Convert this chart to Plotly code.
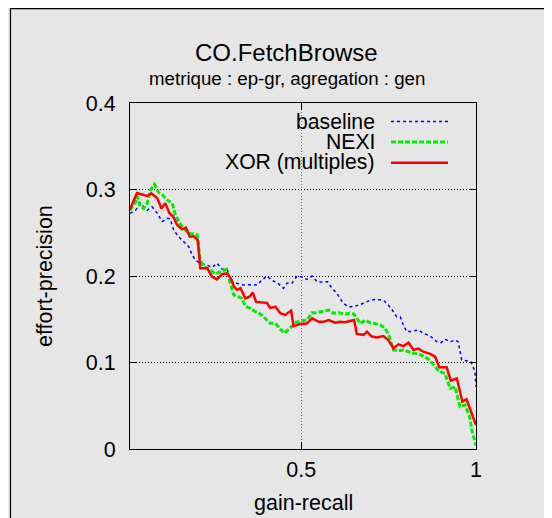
import plotly.graph_objects as go

# ---- data ----
xor_x = [0.01, 0.03, 0.059, 0.071, 0.088, 0.100, 0.111, 0.123, 0.133, 0.145, 0.159, 0.170, 0.181, 0.192, 0.204,
         0.211, 0.231, 0.245, 0.259, 0.273, 0.288, 0.300, 0.307, 0.316, 0.326, 0.340, 0.352, 0.361, 0.371, 0.388,
         0.402, 0.411, 0.426, 0.440, 0.454, 0.471, 0.478, 0.497, 0.516, 0.531, 0.550, 0.564, 0.578, 0.597, 0.611,
         0.626, 0.640, 0.651, 0.659, 0.678, 0.688, 0.702, 0.716, 0.735, 0.749, 0.764, 0.778, 0.792, 0.807, 0.821,
         0.835, 0.849, 0.869, 0.883, 0.895, 0.916, 0.928, 0.945, 0.961, 0.973, 1.0]
xor_y = [0.277, 0.296, 0.2925, 0.2955, 0.290, 0.278, 0.284, 0.2725, 0.269, 0.259, 0.254, 0.256, 0.2455, 0.246, 0.2415,
         0.209, 0.209, 0.199, 0.196, 0.202, 0.203, 0.196, 0.188, 0.184, 0.186, 0.174, 0.176, 0.181, 0.170, 0.169,
         0.169, 0.163, 0.1645, 0.157, 0.155, 0.160, 0.142, 0.1445, 0.145, 0.151, 0.147, 0.147, 0.149, 0.146, 0.147,
         0.1465, 0.148, 0.149, 0.133, 0.132, 0.1356, 0.130, 0.129, 0.1306, 0.126, 0.1164, 0.121, 0.119, 0.1229, 0.1145,
         0.116, 0.1125, 0.110, 0.1067, 0.0944, 0.0944, 0.079, 0.0817, 0.0547, 0.0574, 0.0277]

nexi_x = [0.01, 0.026, 0.031, 0.040, 0.049, 0.059, 0.069, 0.080, 0.092, 0.102, 0.116, 0.131, 0.140, 0.152, 0.164,
          0.178, 0.192, 0.202, 0.211, 0.221, 0.240, 0.254, 0.269, 0.286, 0.297, 0.307, 0.316, 0.330, 0.340, 0.354,
          0.369, 0.383, 0.397, 0.411, 0.426, 0.438, 0.451, 0.467, 0.483, 0.497, 0.516, 0.531, 0.545, 0.559, 0.578,
          0.592, 0.607, 0.626, 0.640, 0.651, 0.659, 0.669, 0.683, 0.697, 0.711, 0.726, 0.740, 0.752, 0.764, 0.778,
          0.792, 0.807, 0.821, 0.835, 0.854, 0.869, 0.883, 0.895, 0.911, 0.926, 0.940, 0.954, 0.969, 0.983, 0.988,
          0.997, 1.0]
nexi_y = [0.276, 0.286, 0.292, 0.280, 0.278, 0.284, 0.2995, 0.306, 0.2965, 0.294, 0.288, 0.284, 0.2705, 0.261, 0.255,
          0.249, 0.2486, 0.2474, 0.2185, 0.211, 0.207, 0.2023, 0.205, 0.2077, 0.1915, 0.178, 0.177, 0.174, 0.165, 0.1626,
          0.1587, 0.156, 0.151, 0.1453, 0.1453, 0.1395, 0.1337, 0.1395, 0.146, 0.148, 0.149, 0.1576, 0.1576, 0.159, 0.1607,
          0.157, 0.1576, 0.156, 0.157, 0.156, 0.151, 0.145, 0.149, 0.146, 0.145, 0.1434, 0.1395, 0.130, 0.1145, 0.1136,
          0.1145, 0.1125, 0.1106, 0.110, 0.1067, 0.102, 0.095, 0.0894, 0.0875, 0.070, 0.072, 0.049, 0.051, 0.0355, 0.022,
          0.0085, 0.004]

base_x = [0.01, 0.026, 0.040, 0.049, 0.059, 0.073, 0.088, 0.102, 0.116, 0.125, 0.135, 0.149, 0.164, 0.178, 0.188,
          0.197, 0.211, 0.229, 0.245, 0.259, 0.273, 0.288, 0.297, 0.307, 0.316, 0.335, 0.355, 0.373, 0.388, 0.402,
          0.416, 0.431, 0.449, 0.459, 0.473, 0.488, 0.502, 0.516, 0.531, 0.545, 0.559, 0.575, 0.588, 0.602, 0.611,
          0.621, 0.635, 0.650, 0.664, 0.678, 0.697, 0.716, 0.735, 0.749, 0.764, 0.773, 0.783, 0.792, 0.802, 0.816,
          0.835, 0.849, 0.869, 0.888, 0.900, 0.911, 0.926, 0.940, 0.949, 0.959, 0.973, 0.985, 0.997, 1.0]
base_y = [0.2725, 0.276, 0.284, 0.280, 0.276, 0.280, 0.2725, 0.263, 0.2667, 0.266, 0.253, 0.2455, 0.2397, 0.234, 0.2243,
          0.2185, 0.2147, 0.2127, 0.210, 0.2147, 0.208, 0.2077, 0.196, 0.192, 0.1915, 0.1896, 0.190, 0.1896, 0.1954, 0.200,
          0.195, 0.1923, 0.1858, 0.1915, 0.1915, 0.200, 0.199, 0.196, 0.200, 0.1934, 0.193, 0.1934, 0.1858, 0.180, 0.174,
          0.1684, 0.1645, 0.1645, 0.1665, 0.1684, 0.172, 0.173, 0.172, 0.1665, 0.1587, 0.153, 0.153, 0.1434, 0.1356, 0.136,
          0.1376, 0.1337, 0.1306, 0.124, 0.123, 0.1268, 0.124, 0.126, 0.124, 0.103, 0.102, 0.101, 0.090, 0.072]

series_names = ["baseline", "NEXI", "XOR (multiples)"]
x_tickvals = [0.5, 1]
x_ticktext = ["0.5", "1"]
y_tickvals = [0, 0.1, 0.2, 0.3, 0.4]
y_ticktext = ["0", "0.1", "0.2", "0.3", "0.4"]

BG = "#e6e6e6"
FONT = "Liberation Sans, Arial, sans-serif"

styles = {
    "baseline": dict(color="#0000ff", width=1.5, dash="dot"),
    "NEXI": dict(color="#00ee00", width=3, dash="5px,2px"),
    "XOR (multiples)": dict(color="#ff0000", width=2.5, dash="solid"),
}

fig = go.Figure()
for name, xs, ys in [("baseline", base_x, base_y), ("NEXI", nexi_x, nexi_y), ("XOR (multiples)", xor_x, xor_y)]:
    fig.add_trace(go.Scatter(x=xs, y=ys, mode="lines", name=name, line=styles[name], showlegend=False))

# page has an 8px body margin: figure is 544x510, placed at (8,8)
OFF = 8
FIG_W, FIG_H = 552 - OFF, 518 - OFF
# plot area in page pixels
L, R, T, B = 130, 476, 103, 449
W = R - L
H = B - T

def px(xp):
    return (xp - L) / W

def py(yp):
    return (B - yp) / H

annotations = [
    dict(text="CO.FetchBrowse", x=px(286), y=py(52.5), font=dict(size=24, color="black", family=FONT)),
    dict(text="metrique : ep-gr, agregation : gen", x=px(286.5), y=py(78.3), font=dict(size=18.7, color="black", family=FONT)),
    dict(text="gain-recall", x=0.5, y=py(503), font=dict(size=21.5, color="black", family=FONT)),
    dict(text="effort-precision", x=px(45), y=0.5, textangle=-90, font=dict(size=21.5, color="black", family=FONT)),
]
for a in annotations:
    a.update(xref="paper", yref="paper", showarrow=False, xanchor="center", yanchor="middle")

shapes = [
    # opaque key area (hides grid)
    dict(type="rect", xref="paper", yref="paper", x0=px(222), x1=px(455), y0=py(174), y1=py(109),
         fillcolor=BG, line=dict(width=0), layer="between"),
    # outer frame of original canvas
    dict(type="rect", xref="paper", yref="paper", x0=px(10.5), x1=px(600), y0=py(600), y1=py(8.7),
         line=dict(color="black", width=1.2), fillcolor="rgba(0,0,0,0)"),
]

legend_rows = [121.5, 142.0, 162.7]
for name, yrow in zip(series_names, legend_rows):
    annotations.append(dict(text=name, xref="paper", yref="paper", x=px(377), y=py(yrow - 0.5), xanchor="right",
                            yanchor="middle", showarrow=False, font=dict(size=21.2, color="black", family=FONT)))
    shapes.append(dict(type="line", xref="paper", yref="paper", x0=px(391), x1=px(448), y0=py(yrow), y1=py(yrow),
                       line=styles[name]))

fig.update_layout(
    width=FIG_W, height=FIG_H, autosize=False,
    margin=dict(l=L - OFF, r=552 - R, t=T - OFF, b=518 - B, pad=0),
    paper_bgcolor=BG, plot_bgcolor=BG,
    font=dict(family=FONT, size=21.5, color="black"),
    annotations=annotations, shapes=shapes,
    showlegend=False,
)
fig.update_xaxes(range=[0.01, 1], tickvals=x_tickvals, ticktext=x_ticktext, showgrid=True,
                 gridcolor="#777777", griddash="1px,2px", gridwidth=1,
                 showline=True, linecolor="black", linewidth=1.2, mirror="allticks",
                 ticks="inside", ticklen=7, tickcolor="black", tickwidth=1, zeroline=False,
                 ticklabelstandoff=1, tickfont=dict(size=21.5, family=FONT))
fig.update_yaxes(range=[0, 0.4], tickvals=y_tickvals, ticktext=y_ticktext, showgrid=True,
                 gridcolor="#000000", griddash="1px,2px", gridwidth=1,
                 showline=True, linecolor="black", linewidth=1.2, mirror="allticks",
                 ticks="inside", ticklen=7, tickcolor="black", tickwidth=1, zeroline=False,
                 ticklabelstandoff=9, tickfont=dict(size=21.5, family=FONT))

fig.write_html("out.html")
